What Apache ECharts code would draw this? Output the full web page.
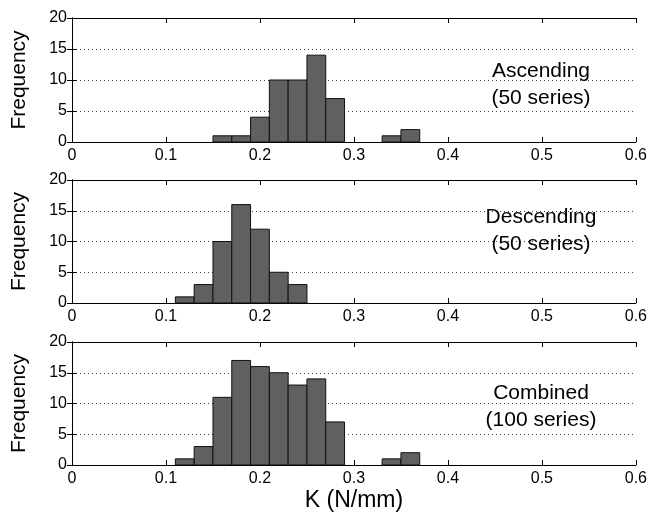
<!DOCTYPE html>
<html>
<head>
<meta charset="utf-8">
<script src="https://cdn.jsdelivr.net/npm/echarts@6/dist/echarts.min.js"></script>
<style>
  html, body { margin: 0; padding: 0; background: #fff; }
  #chart { width: 650px; height: 517px; }
</style>
</head>
<body>
<div id="chart"></div>
<script>
// histogram bins (left edge of each bin, width 0.02)
const binWidth = 0.02;
const binStarts = [0.11, 0.13, 0.15, 0.17, 0.19, 0.21, 0.23, 0.25, 0.27, 0.29, 0.31, 0.33, 0.35];
const ascendingCounts = [0, 0, 1, 1, 4, 10, 10, 14, 7, 0, 0, 1, 2];
const descendingCounts = [1, 3, 10, 16, 12, 5, 3, 0, 0, 0, 0, 0, 0];
const combinedCounts = [1, 3, 11, 17, 16, 15, 13, 14, 7, 0, 0, 1, 2];
const xTicks = [0, 0.1, 0.2, 0.3, 0.4, 0.5, 0.6];
const yTicks = [0, 5, 10, 15, 20];
const panelLabels = [['Ascending', '(50 series)'], ['Descending', '(50 series)'], ['Combined', '(100 series)']];

const font = 'Liberation Sans, Arial, Helvetica, sans-serif';
const panels = [ascendingCounts, descendingCounts, combinedCounts];
const grids = [
  { left: 72, top: 18, width: 564, height: 124 },
  { left: 72, top: 180, width: 564, height: 123 },
  { left: 72, top: 342, width: 564, height: 123 },
];

const chart = echarts.init(document.getElementById('chart'));

const xAxis = [];
const yAxis = [];
const series = [];

panels.forEach((counts, i) => {
  // bottom axis with labels
  xAxis.push({
    type: 'value', gridIndex: i, min: xTicks[0], max: xTicks[xTicks.length - 1], interval: 0.1,
    position: 'bottom',
    axisLine: { show: true, onZero: false, lineStyle: { color: '#000', width: 1 } },
    axisTick: { show: true, inside: true, length: 5, lineStyle: { color: '#000' } },
    axisLabel: { color: '#000', fontSize: 16, fontFamily: font, margin: 6 },
    splitLine: { show: false },
    name: i === 2 ? 'K (N/mm)' : '',
    nameLocation: 'middle', nameGap: 24,
    nameTextStyle: { color: '#000', fontSize: 23, fontFamily: font },
  });
  // top axis: border with ticks only
  xAxis.push({
    type: 'value', gridIndex: i, min: 0, max: 0.6, interval: 0.1, position: 'top',
    axisLine: { show: true, onZero: false, lineStyle: { color: '#000' } },
    axisTick: { show: true, inside: true, length: 5, lineStyle: { color: '#000' } },
    axisLabel: { show: false }, splitLine: { show: false },
  });
  yAxis.push({
    type: 'value', gridIndex: i, min: yTicks[0], max: yTicks[yTicks.length - 1], interval: 5,
    position: 'left',
    axisLine: { show: true, lineStyle: { color: '#000' } },
    axisTick: { show: true, inside: true, length: 5, lineStyle: { color: '#000' } },
    axisLabel: { color: '#000', fontSize: 16, fontFamily: font, margin: 5 },
    splitLine: { show: true, lineStyle: { color: '#444', type: [1, 3], width: 1 } },
    name: 'Frequency', nameLocation: 'middle', nameGap: 42, nameRotate: 90,
    nameTextStyle: { color: '#000', fontSize: 21, fontFamily: font },
  });
  yAxis.push({
    type: 'value', gridIndex: i, min: 0, max: 20, interval: 5, position: 'right',
    axisLine: { show: true, lineStyle: { color: '#000' } },
    axisTick: { show: true, inside: true, length: 5, lineStyle: { color: '#000' } },
    axisLabel: { show: false }, splitLine: { show: false },
  });

  series.push({
    type: 'custom',
    xAxisIndex: i * 2,
    yAxisIndex: i * 2,
    data: binStarts.map((s, k) => [s, counts[k]]),
    renderItem: (params, api) => {
      const start = api.value(0);
      const count = api.value(1);
      if (!count) return null;
      const p0 = api.coord([start, count]);
      const p1 = api.coord([start + binWidth, 0]);
      return {
        type: 'rect',
        shape: { x: p0[0], y: p0[1], width: p1[0] - p0[0], height: p1[1] - p0[1] },
        style: { fill: '#606060', stroke: '#111', lineWidth: 1 },
      };
    },
    z: 3,
  });
});

const graphic = panelLabels.map((lines, i) => ({
  type: 'text',
  x: 541,
  y: [58, 204, 380][i],
  z: 10,
  style: {
    text: lines.join('\n'),
    fill: '#000',
    font: '21px ' + font,
    textAlign: 'center',
    lineHeight: 27,
  },
}));

chart.setOption({
  animation: false,
  grid: grids,
  xAxis,
  yAxis,
  series,
  graphic,
});
</script>
</body>
</html>
